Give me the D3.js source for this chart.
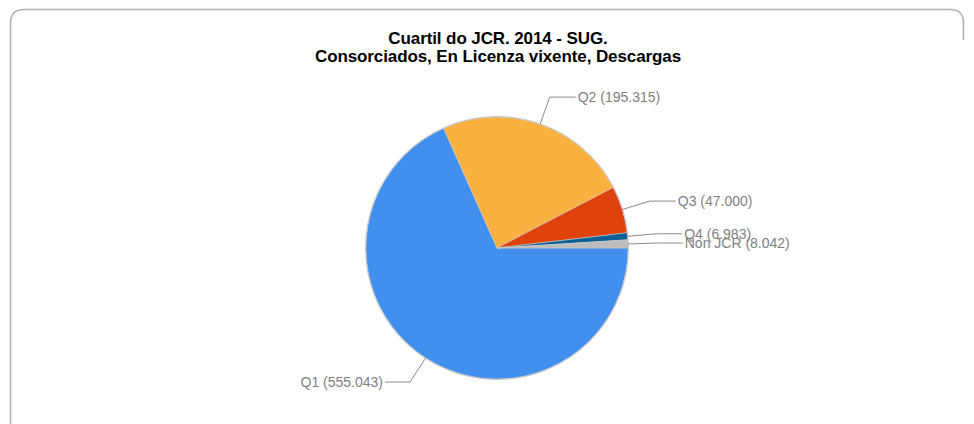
<!DOCTYPE html>
<meta charset='utf-8'>
<style>
	body { margin: 0; background: #fff; }
	#container { width: 974px; height: 424px; }
</style>
<body>
	<div id='container'>
	</div>
<script src='https://d3js.org/d3.v7.min.js'></script>
<script>
	const titleLines = [ 'Cuartil do JCR. 2014 - SUG.', 'Consorciados, En Licenza vixente, Descargas' ];
	const categories = [ 'Q1', 'Q2', 'Q3', 'Q4', 'Non JCR' ];
	const values = [ 555043, 195315, 47000, 6983, 8042 ];
	const sliceColors = [ '#418fee', '#fbb13f', '#df420c', '#0d5f96', '#bdbdbd' ];

	const W = 974, H = 424,
		cx = 497, cy = 248, r = 131;

	const locale = d3.formatLocale( { decimal: ',', thousands: '.', grouping: [3], currency: ['', ''] } );
	const fmt = locale.format( ',d' );

	let svg = d3.select( '#container' )
		.append( 'svg' )
		.attr( 'width', W )
		.attr( 'height', H )
		.style( 'font-family', 'Liberation Sans, Arial, sans-serif' );

	// frame
	svg.append( 'path' )
		.attr( 'd', 'M10.5,430 L10.5,23 Q10.5,9.5 24,9.5 L950,9.5 Q963.5,9.5 963.5,23 L963.5,40' )
		.style( 'fill', 'none' )
		.style( 'stroke', '#b0b0b0' )
		.style( 'stroke-width', 1.5 );

	// title
	svg.append( 'g' )
		.selectAll( 'text' )
		.data( titleLines )
		.enter().append( 'text' )
			.attr( 'x', cx + 1 )
			.attr( 'y', ( d, i ) => 44 + i * 18 )
			.attr( 'text-anchor', 'middle' )
			.style( 'font-weight', 'bold' )
			.style( 'font-size', '17px' )
			.style( 'letter-spacing', '-0.1px' )
			.style( 'fill', '#000' )
			.text( d => d );

	let slices = categories.map( ( c, i ) => ( { name: c, value: values[i], color: sliceColors[i] } ) );

	let pie = d3.pie()
		.sort( null )
		.value( d => d.value )
		.startAngle( Math.PI / 2 )
		.endAngle( Math.PI / 2 + 2 * Math.PI );

	let arc = d3.arc().innerRadius( 0 ).outerRadius( r );
	let arcs = pie( slices );

	let g = svg.append( 'g' )
		.attr( 'transform', `translate( ${cx}, ${cy} )` );

	g.selectAll( '.slice' )
		.data( arcs )
		.enter().append( 'path' )
			.attr( 'class', 'slice' )
			.attr( 'd', arc )
			.style( 'fill', d => d.data.color )
			.style( 'stroke', '#c8c8c8' )
			.style( 'stroke-width', 0.6 );

	// outline
	g.append( 'circle' )
		.attr( 'r', r + 0.5 )
		.style( 'fill', 'none' )
		.style( 'stroke', '#c4c4c4' )
		.style( 'stroke-width', 1 );

	// labels with leader lines
	let labels = g.append( 'g' ).attr( 'class', 'labels' );
	arcs.forEach( d => {
		let a = ( d.startAngle + d.endAngle ) / 2;
		let sx = Math.sin( a ), sy = -Math.cos( a );
		let p0 = [ sx * r, sy * r ];
		let p1 = [ sx * r * 1.22, sy * r * 1.22 ];
		let right = sx >= 0;
		let p2 = [ p1[0] + ( right ? 26 : -25 ), p1[1] ];
		labels.append( 'polyline' )
			.attr( 'points', [ p0, p1, p2 ].map( p => p.join( ',' ) ).join( ' ' ) )
			.style( 'fill', 'none' )
			.style( 'stroke', '#8a8a8a' )
			.style( 'stroke-width', 1 );
		labels.append( 'text' )
			.attr( 'x', p2[0] + ( right ? 2 : -2 ) )
			.attr( 'y', p2[1] )
			.attr( 'dy', '0.35em' )
			.attr( 'text-anchor', right ? 'start' : 'end' )
			.style( 'font-size', '14px' )
			.style( 'fill', '#808080' )
			.text( `${d.data.name} (${fmt( d.data.value )})` );
	} );
</script>
</body>
